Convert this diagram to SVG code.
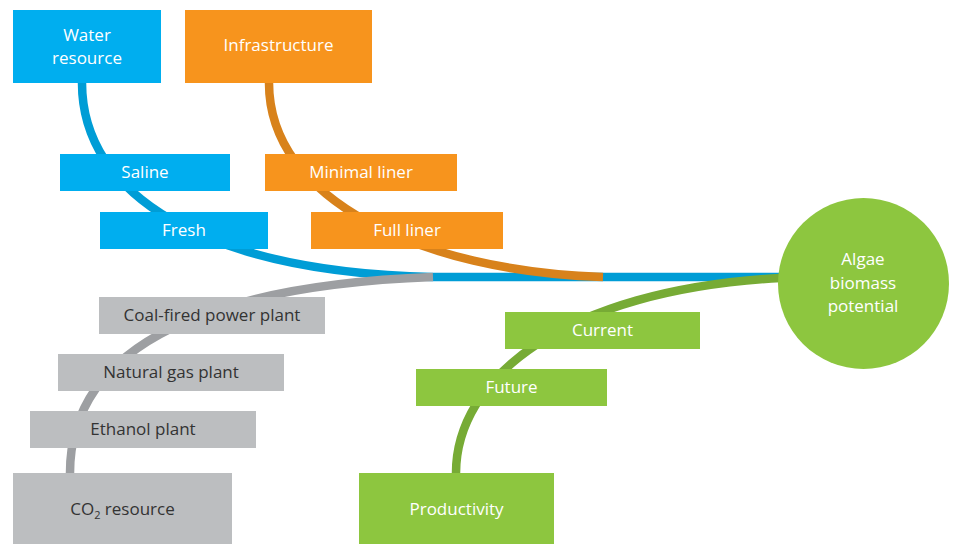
<svg xmlns="http://www.w3.org/2000/svg" width="953" height="544" viewBox="0 0 953 544">
  <style>
    text { font-family: "Open Sans", "Liberation Sans", sans-serif; font-size: 17px; text-anchor: middle; }
    .light { fill: #ffffff; }
    .dark { fill: #333333; }
    .water { fill: #00aeef; }
    .infra { fill: #f7941d; }
    .co2 { fill: #bcbec0; }
    .prod { fill: #8dc63f; }
    .link { fill: none; stroke-width: 8.5; stroke-linecap: butt; }
  </style>

  <!-- connectors: branches merging into the algae biomass node -->
  <g id="connectors">
    <path class="link" stroke="#009dd6" d="M82,83 C82,195 205,272 432,277 L781,277"/>
    <path class="link" stroke="#9d9fa2" d="M70,473 C70,340 220,285 433,277"/>
    <path class="link" stroke="#d8821b" d="M269,83 C269,200 420,271 603,277"/>
    <path class="link" stroke="#77ab35" d="M456,473 C456,380 560,290 781,278"/>
  </g>

  <!-- water branch -->
  <g id="water-resource">
    <rect class="water" x="13" y="10" width="148" height="73"/>
    <text class="light" x="87" y="41">Water</text>
    <text class="light" x="87" y="64">resource</text>
  </g>
  <g id="saline">
    <rect class="water" x="60" y="154" width="170" height="37"/>
    <text class="light" x="145" y="178">Saline</text>
  </g>
  <g id="fresh">
    <rect class="water" x="100" y="212" width="168" height="37"/>
    <text class="light" x="184" y="236">Fresh</text>
  </g>

  <!-- infrastructure branch -->
  <g id="infrastructure">
    <rect class="infra" x="185" y="10" width="187" height="73"/>
    <text class="light" x="278.5" y="51">Infrastructure</text>
  </g>
  <g id="minimal-liner">
    <rect class="infra" x="265" y="154" width="192" height="37"/>
    <text class="light" x="361" y="178">Minimal liner</text>
  </g>
  <g id="full-liner">
    <rect class="infra" x="311" y="212" width="192" height="37"/>
    <text class="light" x="407" y="236">Full liner</text>
  </g>

  <!-- CO2 branch -->
  <g id="coal-fired">
    <rect class="co2" x="99" y="297" width="226" height="37"/>
    <text class="dark" x="212" y="321">Coal-fired power plant</text>
  </g>
  <g id="natural-gas">
    <rect class="co2" x="58" y="354" width="226" height="37"/>
    <text class="dark" x="171" y="378">Natural gas plant</text>
  </g>
  <g id="ethanol">
    <rect class="co2" x="30" y="411" width="226" height="37"/>
    <text class="dark" x="143" y="435">Ethanol plant</text>
  </g>
  <g id="co2-resource">
    <rect class="co2" x="13" y="473" width="219" height="71"/>
    <text class="dark" x="122.5" y="515">CO<tspan font-size="11" dy="4">2</tspan><tspan dy="-4"> resource</tspan></text>
  </g>

  <!-- productivity branch -->
  <g id="current">
    <rect class="prod" x="505" y="312" width="195" height="37"/>
    <text class="light" x="602.5" y="336">Current</text>
  </g>
  <g id="future">
    <rect class="prod" x="416" y="369" width="191" height="37"/>
    <text class="light" x="511.5" y="393">Future</text>
  </g>
  <g id="productivity">
    <rect class="prod" x="359" y="473" width="195" height="71"/>
    <text class="light" x="456.5" y="515">Productivity</text>
  </g>

  <!-- result node -->
  <g id="algae-biomass">
    <circle class="prod" cx="863.5" cy="283.5" r="85.5"/>
    <text class="light" x="863" y="265">Algae</text>
    <text class="light" x="863" y="289">biomass</text>
    <text class="light" x="863" y="312">potential</text>
  </g>
</svg>
